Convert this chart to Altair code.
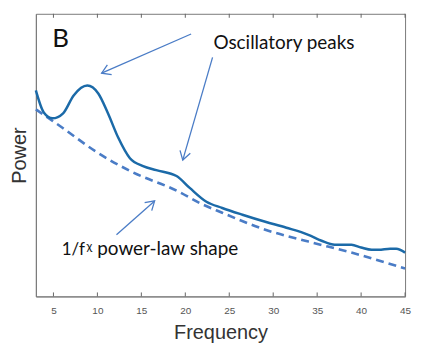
import math
import altair as alt
import pandas as pd

# ---- data ----
freq_solid = [3, 3.9, 4.9, 6.1, 7.3, 8.85, 10.1, 11.2, 12.35, 13.7, 15.2, 16.7, 19.0,
              20.5, 22.4, 24.2, 26.5, 29.1, 31.5, 34.0, 35.5, 37.0, 38.9, 40.0, 41.2,
              42.0, 43.3, 44.0, 45.0]
power_solid = [72.9, 65.1, 63.0, 64.8, 71.1, 74.6, 71.8, 64.8, 56.3, 48.9, 46.1, 44.7, 42.6,
               38.4, 33.5, 31.3, 28.9, 26.4, 24.3, 21.8, 19.7, 18.3, 18.3, 17.3, 16.5,
               16.5, 16.9, 16.9, 15.5]

freq_fit = [3, 6.1, 9.9, 13.7, 19.3, 21.6, 24.2, 29.1, 34.0, 38.9, 45.0]
power_fit = [66.2, 59.5, 51.1, 44.4, 37.0, 33.1, 29.6, 23.6, 19.4, 15.5, 9.9]

tick_values = [5, 10, 15, 20, 25, 30, 35, 40, 45]

# annotation arrows: start (f, p) -> tip (f, p)
arrow_f0 = [20.66, 23.10, 12.17]
arrow_p0 = [92.85, 84.6, 21.83]
arrow_f1 = [10.48, 19.71, 16.51]
arrow_p1 = [78.98, 48.24, 33.8]

W, H = 371, 284
XMIN, XMAX = 3, 45
YMIN, YMAX = 0, 100

solid_df = pd.DataFrame({"f": freq_solid, "p": power_solid})
fit_df = pd.DataFrame({"f": freq_fit, "p": power_fit})
ticks_df = pd.DataFrame({"t": tick_values})

pxf = W / (XMAX - XMIN)
pxp = H / (YMAX - YMIN)
angles = [math.degrees(math.atan2(-(p1 - p0) * pxp, (f1 - f0) * pxf)) % 360
          for f0, p0, f1, p1 in zip(arrow_f0, arrow_p0, arrow_f1, arrow_p1)]
arrows_df = pd.DataFrame({"f0": arrow_f0, "p0": arrow_p0, "f1": arrow_f1,
                          "p1": arrow_p1, "ang": angles})

xscale = alt.Scale(domain=[XMIN, XMAX], nice=False, zero=False)
yscale = alt.Scale(domain=[YMIN, YMAX], nice=False, zero=False)

xaxis = alt.Axis(title="Frequency", values=tick_values, ticks=False, grid=False,
                 labelFlush=False, labelFont="Liberation Sans", labelFontSize=10,
                 labelColor="#555555", labelPadding=9, domainColor="#7a7a7a",
                 titleFont="Liberation Sans", titleFontSize=20, titleFontWeight="normal",
                 titleColor="#333333", titlePadding=7)
yaxis = alt.Axis(title="Power", labels=False, ticks=False, grid=False,
                 domainColor="#7a7a7a", titleFont="Liberation Sans", titleFontSize=20,
                 titleFontWeight="normal", titleColor="#333333", titlePadding=6)

solid = alt.Chart(solid_df).mark_line(color="#1b6aa8", strokeWidth=2.5,
                                       interpolate="monotone").encode(
    x=alt.X("f:Q", scale=xscale, axis=xaxis),
    y=alt.Y("p:Q", scale=yscale, axis=yaxis),
)

fit = alt.Chart(fit_df).mark_line(color="#4a7cc6", strokeWidth=2.6, strokeDash=[8, 5],
                                   interpolate="monotone").encode(
    x=alt.X("f:Q", scale=xscale),
    y=alt.Y("p:Q", scale=yscale),
)

ticks_bottom = alt.Chart(ticks_df).mark_rule(color="#666666", strokeWidth=1).encode(
    x=alt.X("t:Q", scale=xscale), y=alt.value(H), y2=alt.value(H - 4))
ticks_top = alt.Chart(ticks_df).mark_rule(color="#666666", strokeWidth=1).encode(
    x=alt.X("t:Q", scale=xscale), y=alt.value(0), y2=alt.value(4))

ARROW = "#4a7cc6"
arrow_lines = alt.Chart(arrows_df).mark_rule(color=ARROW, strokeWidth=1.3).encode(
    x=alt.X("f0:Q", scale=xscale), y=alt.Y("p0:Q", scale=yscale),
    x2="f1:Q", y2="p1:Q")
arrow_heads = alt.Chart(arrows_df).mark_point(
    shape="M -1 -0.62 L 0 0 L -1 0.62", filled=False, color=ARROW,
    strokeWidth=1.3, size=300, opacity=1).encode(
    x=alt.X("f1:Q", scale=xscale), y=alt.Y("p1:Q", scale=yscale),
    angle=alt.Angle("ang:Q", scale=None))

def label(text, f, p, size):
    d = pd.DataFrame({"f": [f], "p": [p], "txt": [text]})
    return alt.Chart(d).mark_text(align="left", baseline="alphabetic", font="Lato",
                                  fontSize=size, color="#111111").encode(
        x=alt.X("f:Q", scale=xscale), y=alt.Y("p:Q", scale=yscale), text="txt:N")

texts = (label("B", 4.85, 88.1, 26)
         + label("Oscillatory peaks", 23.2, 87.7, 19)
         + label("1/f", 5.95, 14.8, 17)
         + label("χ", 8.75, 16.4, 12)
         + label("power-law shape", 9.98, 14.8, 19))

chart = alt.layer(ticks_bottom, ticks_top, fit, solid, arrow_lines, arrow_heads, texts).properties(
    width=W, height=H,
    autosize=alt.AutoSizeParams(type="none"),
    padding={"left": 28, "top": 5, "right": 15, "bottom": 50},
).configure_view(stroke="#7a7a7a", strokeWidth=1)

chart.save("out.html", embed_options={"renderer": "svg", "actions": False})
